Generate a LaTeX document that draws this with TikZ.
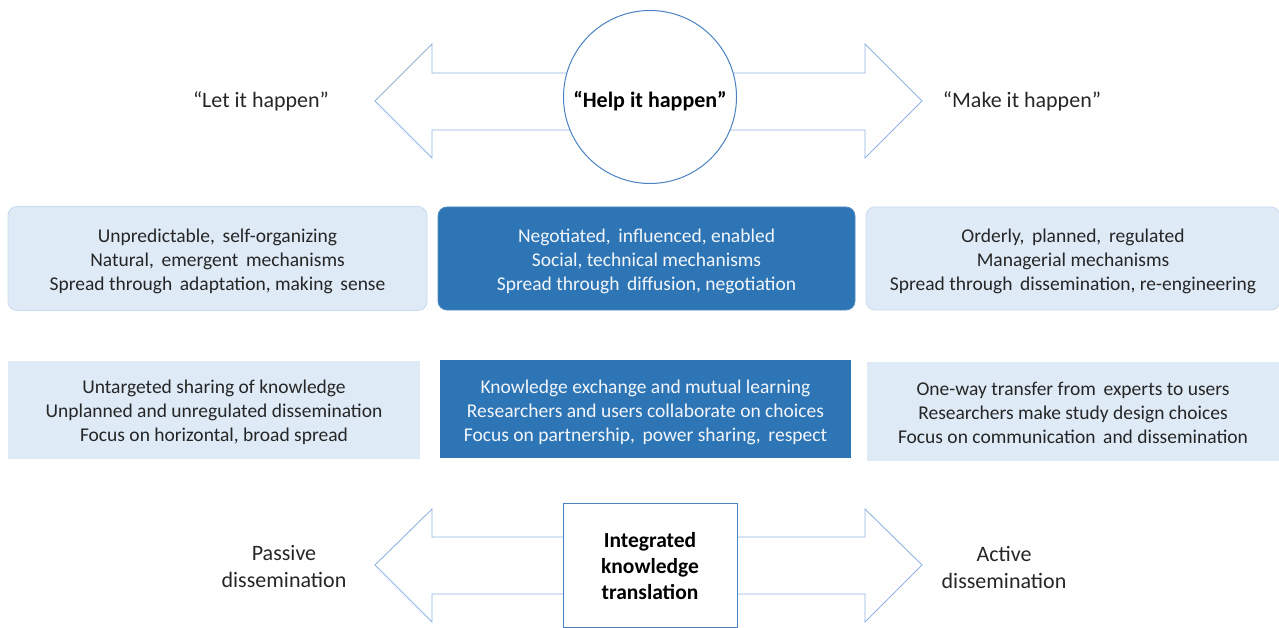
\documentclass[tikz,border=0pt]{standalone}
\usepackage{fontspec}
\setmainfont{Carlito}
\definecolor{lightfill}{HTML}{DEEAF6}
\definecolor{lightedge}{HTML}{C9DAEE}
\definecolor{darkfill}{HTML}{2E75B6}
\definecolor{arrowline}{HTML}{8FB4E0}
\definecolor{shapeline}{HTML}{4A82C2}
\definecolor{textgray}{HTML}{262626}
\definecolor{textwhite}{HTML}{F2F6FB}
\tikzset{
  txt/.style={font=\fontsize{19.5}{24}\selectfont, align=center, inner sep=0pt},
  lightround/.style={fill=lightfill, draw=lightedge, line width=0.8pt, rounded corners=9pt, inner sep=0pt},
  darkround/.style={fill=darkfill, draw=darkfill!85!white, line width=0.8pt, rounded corners=9pt, inner sep=0pt},
  lightrect/.style={fill=lightfill, draw=none, inner sep=0pt},
  darkrect/.style={fill=darkfill, draw=none, inner sep=0pt},
  graytxt/.style={txt, text=textgray},
  whitetxt/.style={txt, text=textwhite},
  bigarrow/.style={draw=arrowline, line width=0.9pt, fill=white, line join=miter},
  label/.style={font=\fontsize{22}{27}\selectfont, align=center, inner sep=0pt, text=textgray},
  boldlabel/.style={font=\fontsize{21.5}{26}\selectfont\bfseries, align=center, inner sep=0pt, text=black},
}
\begin{document}
\begin{tikzpicture}[x=1pt,y=-1pt]
\useasboundingbox (0,0) rectangle (1279,628);
% top double arrow
\draw[bigarrow] (375,101) -- (432,44) -- (432,73) -- (865,73) -- (865,44) -- (922,101)
  -- (865,158) -- (865,130) -- (432,130) -- (432,158) -- cycle;
\node[circle, draw=shapeline, line width=1pt, fill=white, minimum size=173pt, inner sep=0pt] (help) at (650,97) {};
\node[boldlabel, font=\fontsize{22}{26}\selectfont\bfseries] (helpt) at (650,101) {“Help it happen”};
\node[label] (let) at (261,101) {“Let it happen”};
\node[label] (make) at (1022,101) {“Make it happen”};
% row 1
\node[lightround, minimum width=419pt, minimum height=104pt] (r1l) at (217.5,258.5) {};
\node[graytxt] (r1lt) at ([yshift=-3pt]r1l.center)
  {Unpredictable,\, self-organizing\\Natural,\, emergent\, mechanisms\\Spread through\, adaptation, making\, sense};
\node[darkround, minimum width=417pt, minimum height=103pt] (r1m) at (646.5,258.5) {};
\node[whitetxt] (r1mt) at ([yshift=-3pt]r1m.center)
  {Negotiated,\, influenced, enabled\\Social, technical mechanisms\\Spread through\, diffusion, negotiation};
\node[lightround, minimum width=414pt, minimum height=103pt] (r1r) at (1073,258.5) {};
\node[graytxt] (r1rt) at ([yshift=-3pt]r1r.center)
  {Orderly,\, planned,\, regulated\\Managerial mechanisms\\Spread through\, dissemination, re-engineering};
% row 2
\node[lightrect, minimum width=412pt, minimum height=98pt] (r2l) at (214,410) {};
\node[graytxt] (r2lt) at ([yshift=-2pt]r2l.center)
  {Untargeted sharing of knowledge\\Unplanned and unregulated dissemination\\Focus on horizontal, broad spread};
\node[darkrect, minimum width=411pt, minimum height=98pt] (r2m) at (645.5,409) {};
\node[whitetxt] (r2mt) at ([yshift=-3pt]r2m.center)
  {Knowledge exchange and mutual learning\\Researchers and users collaborate on choices\\Focus on partnership,\, power sharing,\, respect};
\node[lightrect, minimum width=412pt, minimum height=99pt] (r2r) at (1073,411.5) {};
\node[graytxt] (r2rt) at ([yshift=-1pt]r2r.center)
  {One-way transfer from\, experts to users\\Researchers make study design choices\\Focus on communication\, and dissemination};
% bottom double arrow
\draw[bigarrow] (375,565) -- (432,509) -- (432,537) -- (865,537) -- (865,509) -- (922,565)
  -- (865,622) -- (865,594) -- (432,594) -- (432,622) -- cycle;
\node[rectangle, draw=shapeline, line width=1pt, fill=white, minimum width=174pt, minimum height=124pt, inner sep=0pt] (ikt) at (650,565) {};
\node[boldlabel] (iktt) at (650,566) {Integrated\\knowledge\\translation};
\node[label] (passive) at (284,567) {Passive\\dissemination};
\node[label] (active) at (1004,567) {Active\\dissemination};
\end{tikzpicture}
\end{document}
